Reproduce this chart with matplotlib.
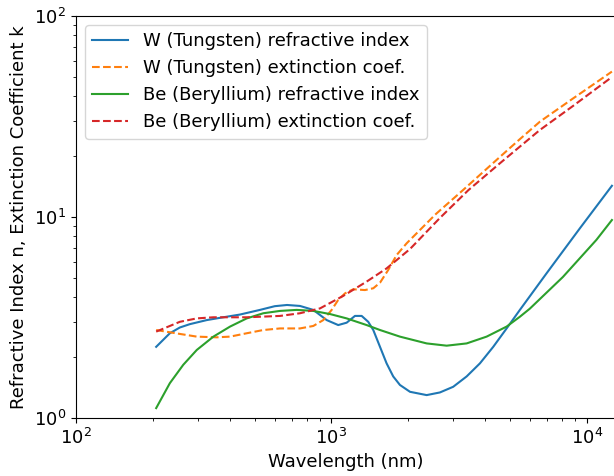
import matplotlib
matplotlib.use("Agg")
import matplotlib.pyplot as plt

# values (wavelength in nm)
w_n_wl = [206, 233, 255, 279, 325, 377, 438, 525, 600, 670, 753, 849, 958,
          1063, 1147, 1236, 1313, 1393, 1458, 1549, 1644, 1745, 1854, 2030,
          2359, 2658, 2997, 3383, 3813, 4299, 4850, 5466, 6955, 9390, 12530]
w_n = [2.26, 2.64, 2.82, 2.93, 3.07, 3.17, 3.27, 3.45, 3.60, 3.65, 3.61, 3.45,
       3.07, 2.90, 2.98, 3.22, 3.22, 3.01, 2.74, 2.26, 1.87, 1.61, 1.46, 1.35,
       1.30, 1.34, 1.43, 1.61, 1.87, 2.26, 2.79, 3.45, 5.25, 8.79, 14.3]

w_k_wl = [206, 255, 297, 355, 401, 466, 541, 629, 753, 849, 929, 1002, 1063,
          1130, 1217, 1352, 1458, 1549, 1668, 1800, 1970, 2564, 3271, 4565,
          5466, 6546, 8830, 10270, 12530]
w_k = [2.74, 2.62, 2.54, 2.52, 2.54, 2.64, 2.74, 2.79, 2.79, 2.87, 3.07, 3.45,
       3.87, 4.17, 4.37, 4.33, 4.42, 4.71, 5.45, 6.47, 7.40, 10.35, 13.6, 19.9,
       24.4, 29.8, 38.9, 44.4, 52.9]

be_n_wl = [206, 233, 263, 297, 345, 401, 466, 541, 629, 731, 849, 987, 1147,
           1373, 1549, 1854, 2359, 2825, 3383, 4050, 4850, 5466, 5980, 8054,
           10900, 12530]
be_n = [1.12, 1.49, 1.84, 2.18, 2.54, 2.85, 3.13, 3.32, 3.41, 3.45, 3.41, 3.29,
        3.13, 2.90, 2.74, 2.54, 2.35, 2.29, 2.35, 2.54, 2.85, 3.19, 3.50, 5.03,
        7.70, 9.66]

be_k_wl = [206, 255, 297, 345, 466, 629, 753, 902, 1112, 1373, 1644, 2030,
           2658, 3435, 4565, 5466, 6546, 8830, 10270, 12530]
be_k = [2.69, 3.01, 3.13, 3.17, 3.17, 3.22, 3.32, 3.51, 4.05, 4.77, 5.55, 6.93,
        9.89, 13.6, 18.5, 22.4, 27.1, 35.7, 41.2, 49.7]

plt.rcParams["font.size"] = 13

fig = plt.figure(figsize=(6.14, 4.76), dpi=100)
ax = fig.add_axes([76 / 614, 58 / 476, 540 / 614, 402 / 476])

ax.plot(w_n_wl, w_n, color="#1f77b4", lw=1.5, label="W (Tungsten) refractive index")
ax.plot(w_k_wl, w_k, color="#ff7f0e", lw=1.5, ls="--", label="W (Tungsten) extinction coef.")
ax.plot(be_n_wl, be_n, color="#2ca02c", lw=1.5, label="Be (Beryllium) refractive index")
ax.plot(be_k_wl, be_k, color="#d62728", lw=1.5, ls="--", label="Be (Beryllium) extinction coef.")

ax.set_xscale("log")
ax.set_yscale("log")
ax.set_xlim(100, 13000)
ax.set_ylim(1, 100)
ax.set_xlabel("Wavelength (nm)")
ax.set_ylabel("Refractive Index n, Extinction Coefficient k")
ax.legend(loc="upper left")

fig.savefig("out.png", dpi=100)
